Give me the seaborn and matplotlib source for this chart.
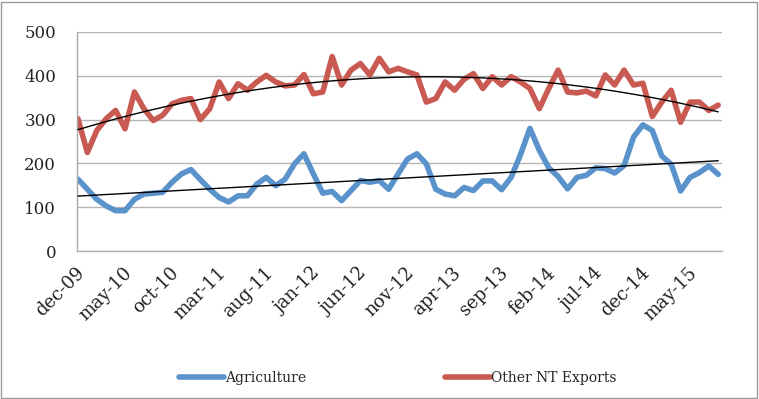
import numpy as np
import pandas as pd
import matplotlib
matplotlib.use("Agg")
import matplotlib.pyplot as plt
import matplotlib.transforms as mtransforms
from matplotlib.patches import Rectangle
import seaborn as sns

# ---- data ----
tick_labels = ["dec-09", "may-10", "oct-10", "mar-11", "aug-11", "jan-12", "jun-12",
               "nov-12", "apr-13", "sep-13", "feb-14", "jul-14", "dec-14", "may-15"]
tick_step = 5  # months between labels

agriculture = [164, 141, 118, 103, 92, 92, 118, 130, 132, 134, 157, 176, 186, 163,
               141, 122, 112, 126, 126, 153, 168, 149, 164, 199, 222, 176, 132, 136,
               115, 138, 161, 157, 161, 141, 176, 210, 222, 199, 141, 130, 126, 145,
               138, 160, 160, 140, 168, 220, 280, 230, 190, 170, 142, 168, 173, 190,
               188, 178, 195, 260, 288, 275, 217, 198, 137, 168, 179, 194, 175]

other_nt = [302, 225, 275, 302, 321, 279, 363, 325, 298, 310, 336, 344, 348, 300,
            325, 386, 348, 382, 367, 386, 401, 386, 377, 379, 403, 359, 363, 444,
            379, 413, 428, 402, 440, 409, 417, 409, 402, 340, 348, 386, 367, 392,
            405, 371, 398, 379, 398, 386, 371, 325, 371, 413, 363, 361, 365, 354,
            402, 379, 413, 379, 383, 307, 340, 367, 294, 340, 340, 321, 333]

series_names = ["Agriculture", "Other NT Exports"]
colors = ["#5A93CB", "#C95A52"]

n = len(agriculture)
month_idx = np.arange(n)
df = pd.DataFrame({"month": month_idx,
                   series_names[0]: agriculture,
                   series_names[1]: other_nt})
long = df.melt(id_vars="month", var_name="series", value_name="value")

sns.set_theme(style="white")
plt.rcParams["font.family"] = ["DejaVu Serif"]

fig = plt.figure(figsize=(7.59, 3.99), dpi=100)
ax = fig.add_axes([77 / 759, 1 - 251 / 399, (722 - 77) / 759, (251 - 32) / 399])

sns.lineplot(data=long, x="month", y="value", hue="series",
             palette=dict(zip(series_names, colors)), linewidth=4,
             ax=ax, legend=True, solid_capstyle="round", solid_joinstyle="round")

# trendlines (Excel-style: linear for agriculture, 2nd-order poly for other)
c1 = np.polyfit(month_idx, agriculture, 1)
c2 = np.polyfit(month_idx, other_nt, 2)
ax.plot(month_idx, np.polyval(c1, month_idx), color="black", lw=1, zorder=5)
ax.plot(month_idx, np.polyval(c2, month_idx), color="black", lw=1, zorder=5)

ax.set_ylim(0, 500)
ax.set_yticks(range(0, 501, 100))
ax.set_xlim(-0.1, n - 1 + 0.4)
ax.set_xticks(month_idx[::tick_step][:len(tick_labels)])
ax.set_xticklabels(tick_labels)
ax.set_xlabel("")
ax.set_ylabel("")

ax.grid(axis="y", color="#B5B5B5", lw=1)
ax.set_axisbelow(True)
for s in ["top", "right"]:
    ax.spines[s].set_visible(False)
ax.spines["left"].set_color("#A8A8A8")
ax.spines["bottom"].set_color("#B5B5B5")
ax.spines["left"].set_linewidth(1)
ax.spines["bottom"].set_linewidth(1)

ax.tick_params(axis="y", length=0, pad=15, labelsize=12, labelcolor="#222222")
ax.tick_params(axis="x", length=0, pad=14, labelsize=13, labelcolor="#222222")
for lab in ax.get_xticklabels():
    lab.set_rotation(45)
    lab.set_ha("right")
    lab.set_va("center")
    lab.set_rotation_mode("anchor")
    lab.set_transform(lab.get_transform() +
                      mtransforms.ScaledTranslation(4 / 100, 0, fig.dpi_scale_trans))

handles, labels = ax.get_legend_handles_labels()
if ax.get_legend() is not None:
    ax.get_legend().remove()
leg = fig.legend(handles, labels, loc="center", bbox_to_anchor=(398 / 759, 1 - 378 / 399),
                 ncol=2, frameon=False, fontsize=10, handlelength=3.2,
                 handletextpad=0.1, columnspacing=10)
for h in leg.get_lines():
    h.set_linewidth(4)

fig.patches.append(Rectangle((0.5 / 759, 1.5 / 399), 756 / 759, 396 / 399,
                             transform=fig.transFigure, fill=False,
                             edgecolor="#9A9A9A", lw=1))

fig.savefig("out.png", dpi=100)
